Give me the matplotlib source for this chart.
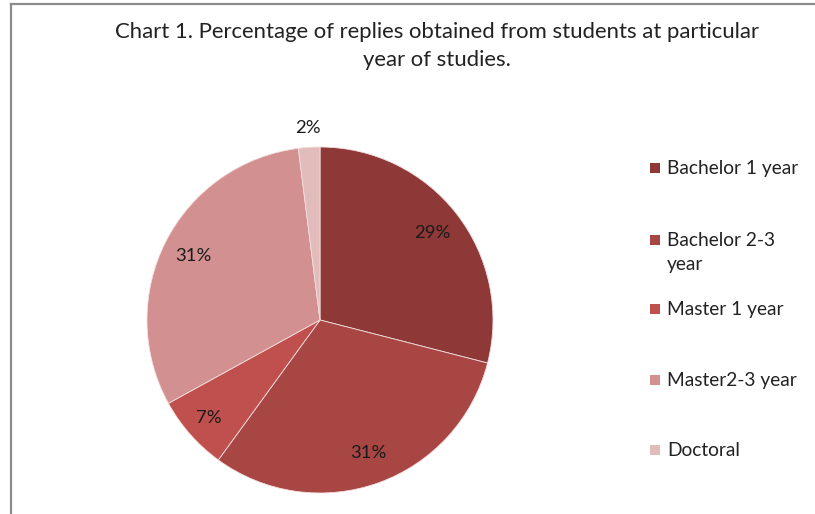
import matplotlib.pyplot as plt
from matplotlib.lines import Line2D
from matplotlib.patches import Rectangle
import numpy as np

plt.rcParams['font.family'] = ['Lato', 'DejaVu Sans']

# === data ===
categories = ["Bachelor 1 year", "Bachelor 2-3\nyear", "Master 1 year", "Master2-3 year", "Doctoral"]
shares = [29, 31, 7, 31, 2]
colors = ["#8E3937", "#A84644", "#C0504D", "#D29190", "#E2BBBB"]

title = "Chart 1. Percentage of replies obtained from students at particular\nyear of studies."

W, H = 815, 514
fig = plt.figure(figsize=(W / 100, H / 100), dpi=100)
fig.patch.set_facecolor("white")

def fx(px):
    return px / W

def fy(py):
    return 1 - py / H

# frame of the chart area (top and left edges visible)
fig.add_artist(Line2D([fx(11), 1.0], [fy(4), fy(4)], color="#8c8c8c", lw=1.6))
fig.add_artist(Line2D([fx(11), fx(11)], [fy(4), 0.0], color="#8c8c8c", lw=1.6))

fig.text(fx(437), fy(46), title, ha="center", va="center", fontsize=15.9,
         color="#222222", linespacing=1.5)

# === pie ===
cx, cy, r = 320, 320, 173
ax = fig.add_axes([fx(cx - r), fy(cy + r), 2 * r / W, 2 * r / H])
wedges, _, autotexts = ax.pie(
    shares, colors=colors, startangle=90, counterclock=False,
    autopct=lambda p: f"{p:.0f}%", pctdistance=0.82,
    wedgeprops=dict(edgecolor="#f3dede", linewidth=0.6),
    textprops=dict(fontsize=13.3, color="#1a1a1a"))
ax.set_xlim(-1, 1)
ax.set_ylim(-1, 1)
ax.set_aspect("equal")
ax.axis("off")

# small slices get their label pushed out a bit / outside the pie
for w, t, v in zip(wedges, autotexts, shares):
    mid = np.deg2rad((w.theta1 + w.theta2) / 2)
    if v < 5:
        d = 1.11
    elif v < 10:
        d = 0.86
    else:
        continue
    t.set_position((d * np.cos(mid), d * np.sin(mid)))

# === legend ===
slots = [168, 240, 309, 380, 450]
for lab, col, y in zip(categories, colors, slots):
    fig.add_artist(Rectangle((fx(650), fy(y + 5)), 10 / W, 10 / H,
                             facecolor=col, edgecolor="none"))
    fig.text(fx(667), fy(y - 8), lab, ha="left", va="top", fontsize=13.8,
             color="#222222", linespacing=1.5)

fig.savefig("out.png", dpi=100)
